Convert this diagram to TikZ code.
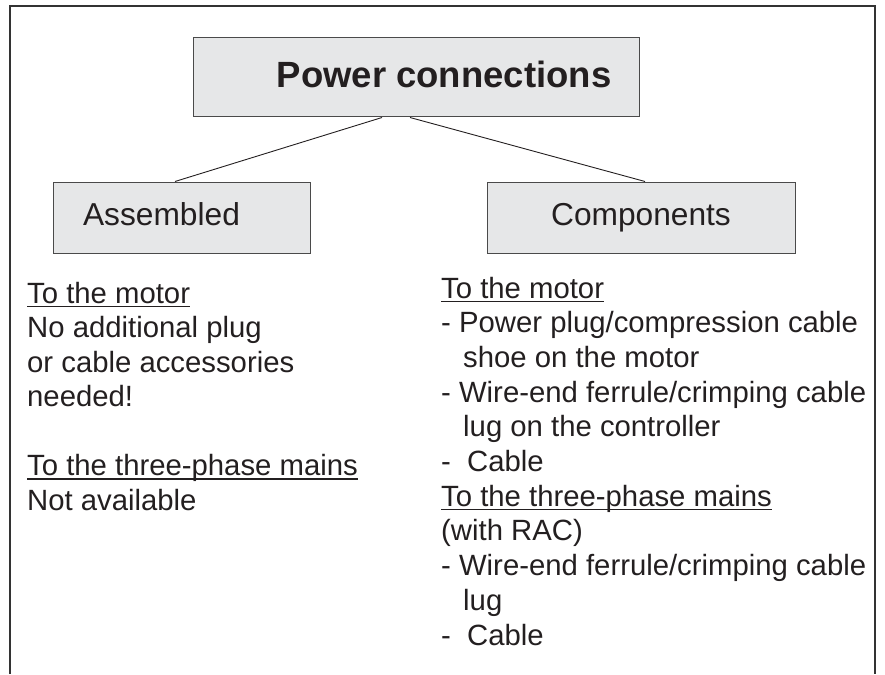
\documentclass[tikz,border=0pt]{standalone}
\usepackage{fontspec}
\setmainfont{Liberation Sans}
\definecolor{boxfill}{HTML}{E6E7E8}
\definecolor{boxline}{HTML}{4A4A4A}
\definecolor{ink}{HTML}{231F20}
\definecolor{framecol}{HTML}{333333}
\tikzset{
  box/.style={draw=boxline, line width=1pt, fill=boxfill, inner sep=0pt, text=ink},
  txt/.style={anchor=base west, inner sep=0pt, font=\fontsize{29.3}{34}\selectfont, text=ink},
  link/.style={draw=ink, line width=0.9pt},
  ulline/.style={draw=ink, line width=1.3pt},
  frameline/.style={draw=framecol, line width=2.5pt}
}
\begin{document}
\begin{tikzpicture}[x=1pt,y=-1pt]
\useasboundingbox (0,0) rectangle (885,674);
\draw[frameline] (10,674) -- (10,6) -- (875,6) -- (875,674);

\node[box, minimum width=446pt, minimum height=79pt, text height=27pt, text depth=6pt,
      font=\bfseries\fontsize{36.5}{40}\selectfont] (power) at (416,77.5)
      {\hspace*{56pt}Power connections};
\node[box, minimum width=257pt, minimum height=71pt, text height=23.5pt, text depth=8.5pt,
      font=\fontsize{31.7}{36}\selectfont] (asm) at (181.5,217.5)
      {Assembled\hspace*{40pt}};
\node[box, minimum width=308pt, minimum height=71pt, text height=23.5pt, text depth=8.5pt,
      font=\fontsize{31.7}{36}\selectfont] (comp) at (641,217.5)
      {Components};

\draw[link] ([xshift=-34pt]power.south) -- ([xshift=-6.5pt]asm.north);
\draw[link] ([xshift=-6pt]power.south) -- ([xshift=4pt]comp.north);

% left column
\node[txt] (l1) at (27,303) {To the motor};
\node[txt] (l2) at (27,337.5) {No additional plug};
\node[txt] (l3) at (27,372) {or cable accessories};
\node[txt] (l4) at (27,406.5) {needed!};
\node[txt] (l5) at (27,475.5) {To the three-phase mains};
\node[txt] (l6) at (27,510) {Not available};

% right column
\node[txt] (r1) at (441,298) {To the motor};
\node[txt] (r2) at (441,332.7) {- Power plug/compression cable};
\node[txt] (r3) at (463,367.4) {shoe on the motor};
\node[txt] (r4) at (441,402.1) {- Wire-end ferrule/crimping cable};
\node[txt] (r5) at (463,436.8) {lug on the controller};
\node[txt] (r6) at (441,471.5) {-\ \ Cable};
\node[txt] (r7) at (441,506.2) {To the three-phase mains};
\node[txt] (r8) at (441,540.9) {(with RAC)};
\node[txt] (r9) at (441,575.6) {- Wire-end ferrule/crimping cable};
\node[txt] (r10) at (463,610.3) {lug};
\node[txt] (r11) at (441,645) {-\ \ Cable};

\foreach \n in {l1,l5,r1,r7}
  \draw[ulline] ([yshift=-3.5pt]\n.base west) -- ([yshift=-3.5pt]\n.base east);
\end{tikzpicture}
\end{document}
